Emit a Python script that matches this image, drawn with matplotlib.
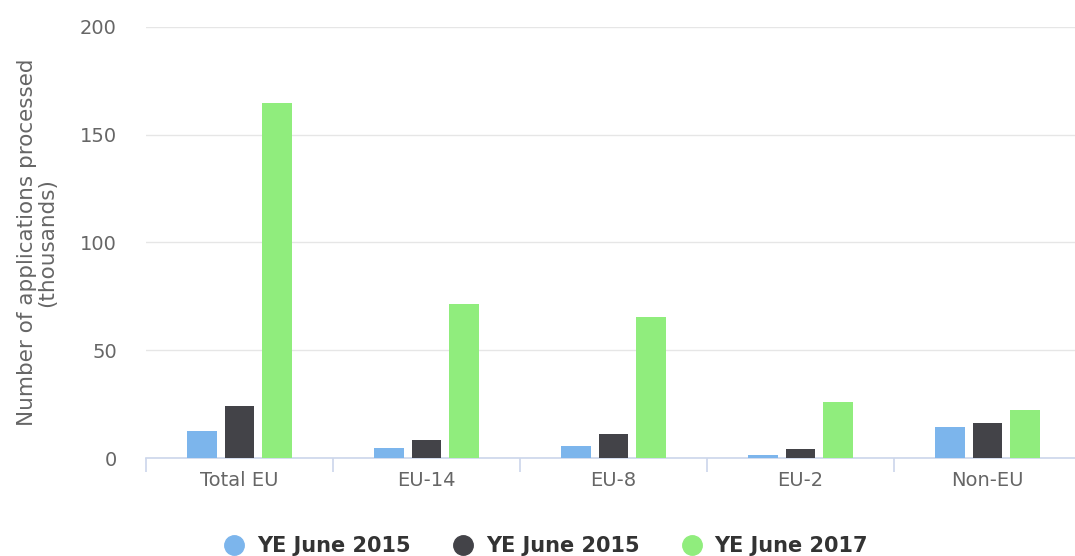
import numpy as np
import matplotlib.pyplot as plt
from matplotlib.lines import Line2D

categories = ["Total EU", "EU-14", "EU-8", "EU-2", "Non-EU"]
series_names = ["YE June 2015", "YE June 2015", "YE June 2017"]
ye_2015_a = [12.6, 4.8, 5.7, 1.4, 14.4]
ye_2015_b = [24.0, 8.4, 11.1, 4.0, 16.1]
ye_2017 = [164.8, 71.6, 65.5, 25.8, 22.3]
colors = ["#7cb5ec", "#434348", "#90ed7d"]

fig = plt.figure(figsize=(10.75, 5.56), dpi=100)
ax = fig.add_axes([146 / 1075, 98 / 556, 935 / 1075, 431 / 556])

x = np.arange(len(categories))
width = 0.16
pitch = 0.2
for i, (vals, col) in enumerate(zip([ye_2015_a, ye_2015_b, ye_2017], colors)):
    ax.bar(x + (i - 1) * pitch, vals, width=width, color=col, zorder=3)

ax.set_xlim(-0.5, len(categories) - 0.5)
ax.set_ylim(0, 200)
ax.set_yticks([0, 50, 100, 150, 200])
ax.grid(axis="y", color="#e6e6e6", linewidth=1, zorder=0)

for s in ["top", "right", "left"]:
    ax.spines[s].set_visible(False)
ax.spines["bottom"].set_color("#ccd6eb")
ax.spines["bottom"].set_linewidth(1.2)

ax.tick_params(axis="y", length=0, pad=21, labelsize=14, labelcolor="#666666")
ax.set_xticks(x)
ax.set_xticklabels(categories)
ax.tick_params(axis="x", length=0, pad=9, labelsize=14, labelcolor="#666666")
ax.set_xticks(np.arange(len(categories) + 1) - 0.5, minor=True)
ax.tick_params(axis="x", which="minor", length=10, color="#ccd6eb", width=1.2)

ax.set_ylabel("Number of applications processed\n(thousands)", fontsize=15.5,
              color="#666666", labelpad=16, linespacing=1.05)

handles = [Line2D([], [], marker="o", linestyle="", markersize=14,
                  markerfacecolor=c, markeredgecolor=c) for c in colors]
fig.legend(handles, series_names, loc="center", bbox_to_anchor=(0.503, 0.018),
           ncol=3, frameon=False, prop={"weight": "bold", "size": 15},
           labelcolor="#333333", handletextpad=0.1, columnspacing=1.5)

fig.savefig("out.png", dpi=100)
